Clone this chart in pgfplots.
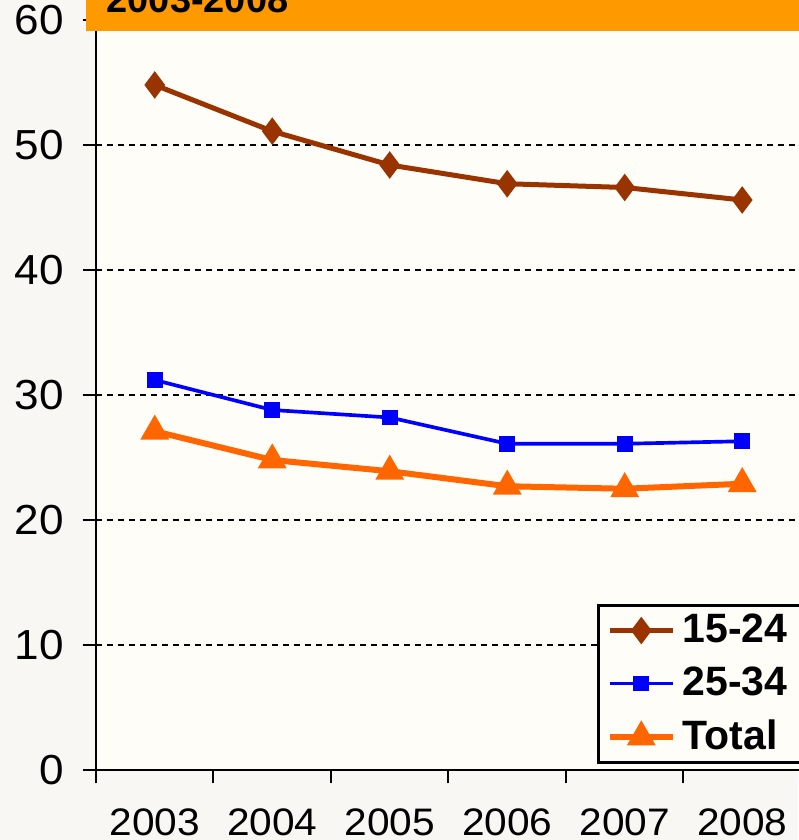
\documentclass[border=0pt]{standalone}
\usepackage{fontspec}
\setmainfont{Liberation Sans}
\usepackage{graphicx}
\usepackage{pgfplots}
\pgfplotsset{compat=1.18}
\definecolor{cBrown}{HTML}{993300}
\definecolor{cBlue}{HTML}{0000FF}
\definecolor{cOrange}{HTML}{FF6600}
\definecolor{cBanner}{HTML}{FF9900}
\definecolor{bgOuter}{HTML}{F9F7F3}
\definecolor{bgPlot}{HTML}{FFFDF8}
\begin{document}
\begin{tikzpicture}
\fill[bgOuter] (-28.8pt,-21pt) rectangle (210.6pt,231pt);
\begin{axis}[
  at={(0,0)}, anchor=south west,
  scale only axis, width=211.5pt, height=225pt,
  xmin=0.5, xmax=6.5, ymin=0, ymax=60,
  axis x line*=bottom, axis y line*=left,
  axis line style={-, line width=0.8pt, black},
  axis background/.style={fill=bgPlot},
  xtick={0.5,1.5,...,6.5},
  x tick label as interval,
  xticklabels={\scalebox{1.06}[1]{2003},\scalebox{1.06}[1]{2004},\scalebox{1.06}[1]{2005},\scalebox{1.06}[1]{2006},\scalebox{1.06}[1]{2007},\scalebox{1.06}[1]{2008}},
  ytick={0,10,...,60},
  yticklabel={\fontsize{12.6}{14}\selectfont\scalebox{1.05}[1]{\pgfmathprintnumber{\tick}}},
  tick align=outside,
  major tick length=4pt,
  tick style={black, line width=0.6pt},
  ymajorgrids,
  grid style={black, dash pattern=on 1.8pt off 1.5pt, line width=0.8pt},
  /pgf/number format/assume math mode=true,
  tick label style={font=\fontsize{11.5}{13}\selectfont},
  yticklabel style={xshift=-2.2pt},
  xticklabel style={yshift=-4pt},
  legend style={at={(0.7106,0.008)}, anchor=south west, draw=black, line width=0.8pt,
    fill=bgPlot, font=\bfseries\fontsize{12.3}{14}\selectfont,
    nodes={inner ysep=2pt},
    row sep=1.8pt, inner xsep=2.5pt, inner ysep=0.5pt},
  legend cell align=left,
  legend image code/.code={\draw[mark repeat=2,mark phase=2] plot coordinates {(0pt,0pt) (9.5pt,0pt) (19pt,0pt)};},
]
\addplot[cBrown, line width=1.5pt, mark=diamond*, mark size=2.9pt, mark options={solid, fill=cBrown}]
  coordinates {(1,54.8) (2,51.1) (3,48.4) (4,46.9) (5,46.6) (6,45.6)};
\addlegendentry{15-24}
\addplot[cBlue, line width=1.1pt, mark=square*, mark size=1.8pt, mark options={solid, fill=cBlue}]
  coordinates {(1,31.2) (2,28.8) (3,28.2) (4,26.1) (5,26.1) (6,26.3)};
\addlegendentry{25-34}
\addplot[cOrange, line width=1.8pt, mark=triangle*, mark size=3.2pt, mark options={solid, fill=cOrange}]
  coordinates {(1,27.1) (2,24.8) (3,23.9) (4,22.7) (5,22.5) (6,22.9)};
\addlegendentry{Total}
\end{axis}
\fill[cBanner] (-3pt,221.8pt) rectangle (215pt,240pt);
\node[anchor=base west, inner sep=0pt, font=\bfseries\fontsize{11.4}{13}\selectfont] at (3pt,227.1pt) {2003-2008};
\pgfresetboundingbox
\path[use as bounding box] (-28.8pt,-21pt) rectangle (210.6pt,231pt);
\end{tikzpicture}
\end{document}
